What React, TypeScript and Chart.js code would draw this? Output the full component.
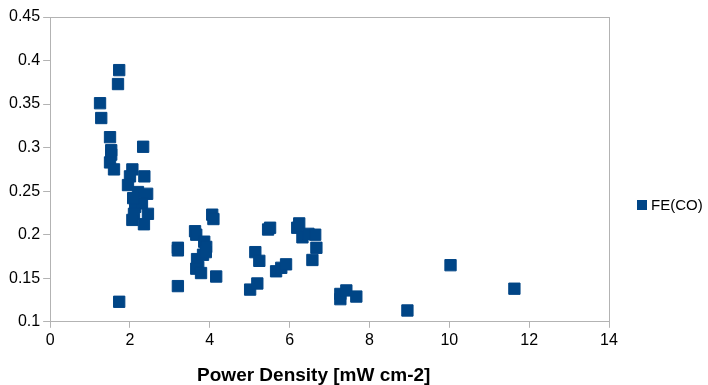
import React, { useEffect, useRef } from "react";
import { Chart, registerables } from "chart.js";

Chart.register(...registerables);

const powerDensity = [
  1.25, 1.28, 1.73, 1.70, 1.50, 1.53, 1.53, 1.50, 1.60, 2.33, 2.06, 2.00, 1.95, 2.36, 2.20, 2.43, 2.13, 2.30, 2.10, 2.45, 2.06, 2.35, 1.73, 2.08,
  3.20, 3.20, 3.20, 3.63, 3.66, 3.86, 3.91, 3.68, 3.71, 3.66, 3.83, 3.90, 3.78, 4.06, 4.09, 4.16,
  5.01, 5.19, 5.14, 5.24, 5.46, 5.51, 5.66, 5.79, 5.91,
  6.19, 6.24, 6.32, 6.47, 6.64, 6.67, 6.57,
  7.27, 7.27, 7.42, 7.67, 8.95, 10.03, 11.63,
];
const feCO = [
  0.351, 0.334, 0.389, 0.373, 0.312, 0.297, 0.292, 0.283, 0.275, 0.301, 0.275, 0.267, 0.257, 0.267, 0.249, 0.247, 0.232, 0.236, 0.224, 0.224, 0.217, 0.212, 0.123, 0.242,
  0.185, 0.182, 0.141, 0.204, 0.200, 0.192, 0.186, 0.172, 0.163, 0.161, 0.177, 0.180, 0.156, 0.223, 0.218, 0.152,
  0.137, 0.144, 0.180, 0.170, 0.206, 0.208, 0.158, 0.162, 0.166,
  0.208, 0.213, 0.197, 0.201, 0.200, 0.185, 0.171,
  0.132, 0.126, 0.136, 0.129, 0.113, 0.165, 0.138,
];
const seriesName = "FE(CO)";
const xTitle = "Power Density [mW cm-2]";

const COLOR = "#004586";
const AXIS = "#b3b3b3";
const FONT = "'Liberation Sans', Arial, sans-serif";

const legendPlugin = {
  id: "sideLegend",
  afterDraw(chart: any) {
    const ctx = chart.ctx;
    ctx.save();
    ctx.fillStyle = COLOR;
    ctx.fillRect(637, 200, 10, 10);
    ctx.fillStyle = "#000";
    ctx.font = "15px " + FONT;
    ctx.textBaseline = "middle";
    ctx.textAlign = "left";
    ctx.fillText(seriesName, 651, 206);
    ctx.restore();
  },
};

export default function App() {
  const ref = useRef<HTMLCanvasElement | null>(null);
  useEffect(() => {
    if (!ref.current) return;
    const data = powerDensity.map((x, i) => ({ x, y: feCO[i] }));
    const chart = new Chart(ref.current, {
      type: "scatter",
      data: {
        datasets: [
          {
            label: seriesName,
            data,
            backgroundColor: COLOR,
            borderColor: COLOR,
            borderWidth: 1,
            pointStyle: "rect",
            pointRadius: 8,
          },
        ],
      },
      options: {
        animation: false,
        responsive: false,
        layout: { padding: { left: 6, right: 99, top: 17, bottom: 0 } },
        plugins: { legend: { display: false }, tooltip: { enabled: false } },
        scales: {
          x: {
            type: "linear",
            min: 0,
            max: 14,
            ticks: { stepSize: 2, color: "#000", padding: 3, font: { family: FONT, size: 16 } },
            grid: {
              color: (c: any) => (c.tick && c.tick.value === 14 ? AXIS : "rgba(0,0,0,0)"),
              tickColor: AXIS,
              tickLength: 6,
              lineWidth: 1,
            },
            border: { color: AXIS, width: 1 },
            title: {
              display: true,
              text: xTitle + "\u00A0\u00A0\u00A0\u00A0\u00A0\u00A0",
              color: "#000",
              font: { family: FONT, size: 19, weight: "bold", lineHeight: 1 },
              padding: { top: 13, bottom: 0 },
            },
          },
          y: {
            type: "linear",
            min: 0.1,
            max: 0.45,
            ticks: {
              stepSize: 0.05,
              color: "#000",
              padding: 3,
              font: { family: FONT, size: 16 },
              callback: (v: any) => String(Math.round(Number(v) * 100) / 100),
            },
            grid: {
              color: (c: any) => (c.tick && Math.abs(c.tick.value - 0.45) < 1e-6 ? AXIS : "rgba(0,0,0,0)"),
              tickColor: AXIS,
              tickLength: 7,
              lineWidth: 1,
            },
            border: { color: AXIS, width: 1 },
          },
        },
      },
      plugins: [legendPlugin],
    });
    return () => chart.destroy();
  }, []);
  return (
    <div style={{ position: "fixed", left: 0, top: 0, width: 708, height: 385, background: "#fff" }}>
      <canvas ref={ref} width={708} height={385} style={{ width: 708, height: 385, display: "block" }} />
    </div>
  );
}
